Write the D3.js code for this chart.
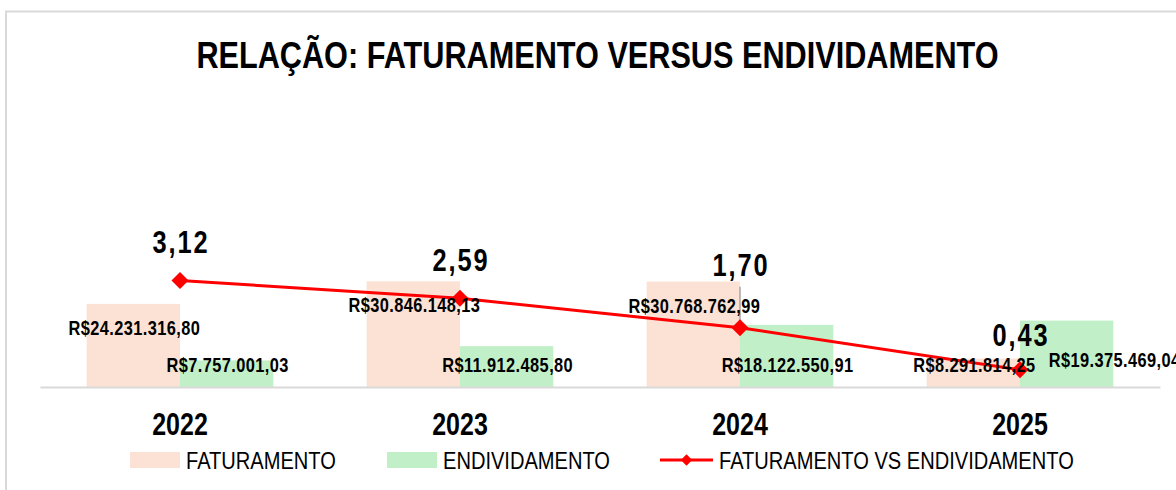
<!DOCTYPE html>
<html>
<head>
<meta charset="utf-8">
<script src="https://cdn.jsdelivr.net/npm/d3@7"></script>
<style>
  html, body { margin: 0; padding: 0; background: #ffffff; }
  svg { display: block; }
  text { font-family: "Liberation Sans", Arial, sans-serif; }
</style>
</head>
<body>
<svg id="chart" width="1176" height="490"></svg>
<script>
// ---- data ----
const years = ["2022", "2023", "2024", "2025"];
const faturamento = [24231316.80, 30846148.13, 30768762.99, 8291814.25];
const endividamento = [7757001.03, 11912485.80, 18122550.91, 19375469.04];
const relacao = [3.12, 2.59, 1.70, 0.43];
const seriesNames = ["FATURAMENTO", "ENDIVIDAMENTO", "FATURAMENTO VS ENDIVIDAMENTO"];
const title = "RELAÇÃO: FATURAMENTO VERSUS ENDIVIDAMENTO";

// ---- layout / style ----
const W = 1176, H = 490;
const baseY = 387;
const NARROW = 0.82; // Arial Narrow ≈ Arial condensed horizontally
const colFat = "#fbe2d5", colEnd = "#c1f0c8", colLine = "#ff0000";

const locale = d3.formatLocale({ decimal: ",", thousands: ".", grouping: [3], currency: ["R$", ""] });
const fmtMoney = locale.format("$,.2f");
const fmtRatio = locale.format(",.2f");

const svg = d3.select("#chart");
svg.append("rect").attr("width", W).attr("height", H).attr("fill", "#fff");

// outer chart frame (partially visible)
svg.append("path")
  .attr("d", `M6,${H + 5} V11.5 H${W + 5}`)
  .attr("fill", "none").attr("stroke", "#d9d9d9").attr("stroke-width", 2);

// place narrow text at (x,y)
function placeNarrow(sel, fx, fy) {
  sel.attr("x", 0).attr("y", 0)
     .attr("transform", (d, i) => `translate(${fx(d, i)},${fy(d, i)}) scale(${NARROW},1)`);
}

// title
svg.append("text")
  .attr("transform", `translate(597.5,68) scale(${NARROW},1)`)
  .attr("text-anchor", "middle")
  .attr("font-size", 37.4).attr("font-weight", "bold").attr("fill", "#000")
  .text(title);

// scales
const x = d3.scaleBand().domain(years).range([40, 1160]).paddingInner(0).paddingOuter(0);
const xSub = d3.scaleBand().domain(["fat", "end"]).range([0, x.bandwidth()]).paddingInner(0).paddingOuter(0.5);
const y = d3.scaleLinear().domain([0, 35e6]).range([baseY, 267]);
const yR = d3.scaleLinear().domain([0, 3.5]).range([384, 268]);

const rows = years.map((yr, i) => ({ yr, fat: faturamento[i], end: endividamento[i], r: relacao[i] }));

// bars
svg.append("g").selectAll("rect").data(rows).join("rect")
  .attr("x", d => x(d.yr) + xSub("fat"))
  .attr("y", d => y(d.fat))
  .attr("width", xSub.bandwidth())
  .attr("height", d => baseY - y(d.fat))
  .attr("fill", colFat);
svg.append("g").selectAll("rect").data(rows).join("rect")
  .attr("x", d => x(d.yr) + xSub("end"))
  .attr("y", d => y(d.end))
  .attr("width", xSub.bandwidth())
  .attr("height", d => baseY - y(d.end))
  .attr("fill", colEnd);

// category axis
const xAxis = d3.axisBottom(x).tickSize(0).tickPadding(0);
const gx = svg.append("g").attr("transform", `translate(0,${baseY})`).call(xAxis);
gx.select(".domain").attr("stroke", "#d9d9d9").attr("stroke-width", 2);
gx.selectAll(".tick text")
  .attr("y", 0).attr("dy", 0)
  .attr("transform", `translate(0,48) scale(${NARROW},1)`)
  .attr("font-size", 30.5).attr("font-weight", "bold").attr("fill", "#000")
  .style("font-family", '"Liberation Sans", Arial, sans-serif');

// ratio line
const cx = d => x(d.yr) + x.bandwidth() / 2;
const line = d3.line().x(cx).y(d => yR(d.r));
svg.append("path").datum(rows)
  .attr("d", line).attr("fill", "none")
  .attr("stroke", colLine).attr("stroke-width", 3);

// leader line for moved 2024 ratio label
const leaderIdx = 2;
svg.append("line")
  .attr("x1", cx(rows[leaderIdx])).attr("x2", cx(rows[leaderIdx]))
  .attr("y1", yR(rows[leaderIdx].r) - 41).attr("y2", yR(rows[leaderIdx].r) - 6)
  .attr("stroke", "#a6a6a6").attr("stroke-width", 1.5);

const diamond = d3.symbol().type(d3.symbolSquare).size(144);
svg.append("g").selectAll("path").data(rows).join("path")
  .attr("d", diamond)
  .attr("transform", d => `translate(${cx(d)},${yR(d.r)}) rotate(45)`)
  .attr("fill", colLine);

// bar labels
const labelFont = 20, labelSpacing = 0.5;
svg.append("g").selectAll("text").data(rows).join("text")
  .call(placeNarrow,
        d => x(d.yr) + xSub("fat") + xSub.bandwidth() / 2 + 1,
        d => Math.min(y(d.fat) + 24, baseY - 22))
  .attr("dy", "0.35em")
  .attr("text-anchor", "middle")
  .attr("font-size", labelFont).attr("font-weight", "bold")
  .attr("letter-spacing", labelSpacing).attr("fill", "#000")
  .text(d => fmtMoney(d.fat));

const endNudge = [[0, 0], [0, 0], [0, 0], [47, -5]];
svg.append("g").selectAll("text").data(rows).join("text")
  .call(placeNarrow,
        (d, i) => x(d.yr) + xSub("end") + xSub.bandwidth() / 2 + 1 + endNudge[i][0],
        (d, i) => baseY - 22 + endNudge[i][1])
  .attr("dy", "0.35em")
  .attr("text-anchor", "middle")
  .attr("font-size", labelFont).attr("font-weight", "bold")
  .attr("letter-spacing", labelSpacing).attr("fill", "#000")
  .text(d => fmtMoney(d.end));

// ratio labels
const ratioNudge = [-38, -38, -63, -35];
svg.append("g").selectAll("text").data(rows).join("text")
  .call(placeNarrow, d => cx(d) + 1, (d, i) => yR(d.r) + ratioNudge[i])
  .attr("dy", "0.35em")
  .attr("text-anchor", "middle")
  .attr("font-size", 31).attr("font-weight", "bold")
  .attr("letter-spacing", 2.3).attr("fill", "#000")
  .text(d => fmtRatio(d.r));

// legend
const lg = svg.append("g").attr("font-size", 24.5).attr("fill", "#000");
const legendItems = [
  { name: seriesNames[0], type: "rect", color: colFat, x: 130, tx: 186 },
  { name: seriesNames[1], type: "rect", color: colEnd, x: 387, tx: 443 },
  { name: seriesNames[2], type: "line", color: colLine, x: 660, tx: 719 }
];
const legY = 460;
legendItems.forEach(it => {
  if (it.type === "rect") {
    lg.append("rect").attr("x", it.x).attr("y", legY - 8).attr("width", 50).attr("height", 16).attr("fill", it.color);
  } else {
    lg.append("line").attr("x1", it.x).attr("x2", it.x + 53).attr("y1", legY).attr("y2", legY)
      .attr("stroke", it.color).attr("stroke-width", 3);
    lg.append("path").attr("d", d3.symbol().type(d3.symbolSquare).size(64))
      .attr("transform", `translate(${it.x + 26.5},${legY}) rotate(45)`).attr("fill", it.color);
  }
  lg.append("text")
    .attr("transform", `translate(${it.tx},${legY}) scale(${NARROW},1)`)
    .attr("dy", "0.35em").text(it.name);
});
</script>
</body>
</html>
